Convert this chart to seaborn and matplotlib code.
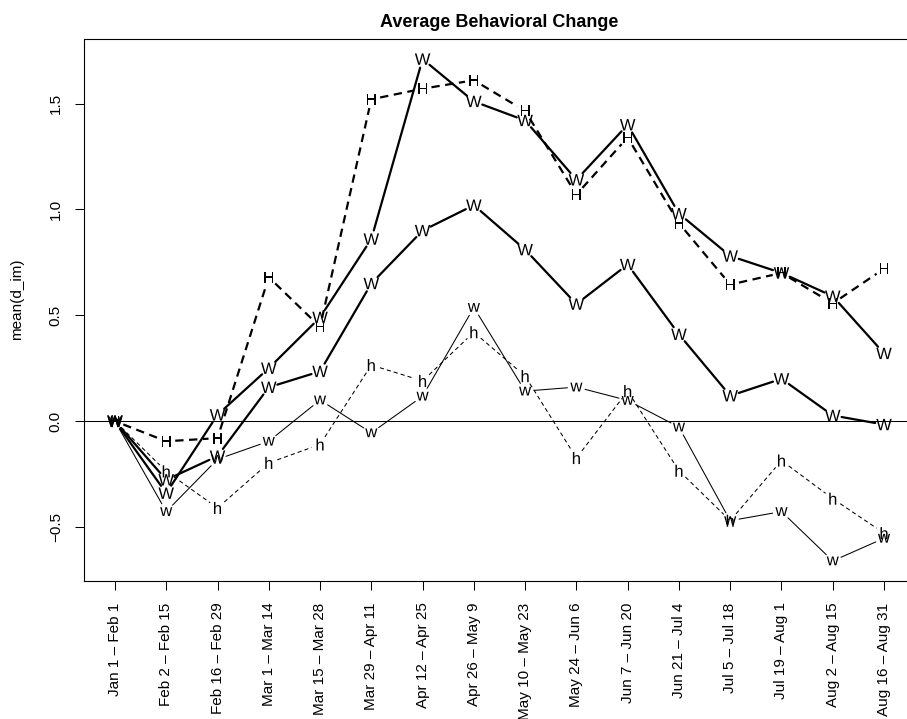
import numpy as np
import pandas as pd
import matplotlib
matplotlib.use("Agg")
import matplotlib.pyplot as plt
import seaborn as sns
from matplotlib.textpath import TextPath
from matplotlib.font_manager import FontProperties
from matplotlib.path import Path

# ---- data -------------------------------------------------------------
periods = [
    "Jan 1 – Feb 1", "Feb 2 – Feb 15", "Feb 16 – Feb 29", "Mar 1 – Mar 14",
    "Mar 15 – Mar 28", "Mar 29 – Apr 11", "Apr 12 – Apr 25", "Apr 26 – May 9",
    "May 10 – May 23", "May 24 – Jun 6", "Jun 7 – Jun 20", "Jun 21 – Jul 4",
    "Jul 5 – Jul 18", "Jul 19 – Aug 1", "Aug 2 – Aug 15", "Aug 16 – Aug 31",
]

W_upper = [0.00, -0.34, 0.03, 0.25, 0.49, 0.86, 1.71, 1.51,
           1.42, 1.14, 1.40, 0.98, 0.78, 0.70, 0.59, 0.32]
H_vals = [0.00, -0.095, -0.08, 0.68, 0.445, 1.52, 1.57, 1.61,
          1.465, 1.07, 1.34, 0.935, 0.645, 0.70, 0.556, 0.72]
W_lower = [0.00, -0.277, -0.165, 0.16, 0.235, 0.65, 0.90, 1.02,
           0.81, 0.553, 0.74, 0.41, 0.12, 0.20, 0.027, -0.016]
w_vals = [0.00, -0.427, -0.18, -0.095, 0.10, -0.055, 0.118, 0.537,
          0.142, 0.161, 0.098, -0.028, -0.47, -0.427, -0.66, -0.553]
h_vals = [0.00, -0.237, -0.41, -0.197, -0.11, 0.265, 0.19, 0.42,
          0.213, -0.174, 0.142, -0.234, -0.47, -0.186, -0.366, -0.529]

yticks = [-0.5, 0.0, 0.5, 1.0, 1.5]

# ---- style ------------------------------------------------------------
sns.set_style("ticks")
plt.rcParams["font.family"] = ["Liberation Sans", "DejaVu Sans"]
plt.rcParams["lines.scale_dashes"] = False
plt.rcParams["text.color"] = "black"
plt.rcParams["axes.labelcolor"] = "black"

W_PX, H_PX, DPI = 907, 719, 100
fig = plt.figure(figsize=(W_PX / DPI, H_PX / DPI), dpi=DPI)
left, right, top, bottom = 84.2, 914.8, 39.0, 581.0
ax = fig.add_axes([left / W_PX, (H_PX - bottom) / H_PX,
                   (right - left) / W_PX, (bottom - top) / H_PX])

x = np.arange(1, len(periods) + 1)
all_vals = np.concatenate([W_upper, H_vals, W_lower, w_vals, h_vals])
lo, hi = all_vals.min(), all_vals.max()
pad = 0.04 * (hi - lo)
ax.set_xlim(0.4, len(periods) + 0.6)
ax.set_ylim(lo - pad, hi + pad)

series = [
    ("W", W_upper, 1.6, "-"),
    ("H", H_vals, 1.6, (0, (6, 4))),
    ("W", W_lower, 1.6, "-"),
    ("w", w_vals, 0.75, "-"),
    ("h", h_vals, 0.75, (0, (3, 2.2))),
]

GAP = 9.0  # pixels left open around each plotted letter
LETTER_PT = 12.0
fp = FontProperties(family="Liberation Sans")


def letter_marker(ch):
    tp = TextPath((0, 0), ch, size=LETTER_PT, prop=fp)
    ext = tp.get_extents()
    verts = tp.vertices - np.array([ext.x0 + ext.width / 2, ext.y0 + ext.height / 2])
    return Path(verts, tp.codes), max(ext.width, ext.height)


def gapped(xs, ys):
    pts = ax.transData.transform(np.column_stack([xs, ys]))
    inv = ax.transData.inverted()
    rows = []
    for i in range(len(pts) - 1):
        p0, p1 = pts[i], pts[i + 1]
        d = p1 - p0
        L = np.hypot(*d)
        if L <= 2 * GAP:
            continue
        u = d / L
        a, b = inv.transform(np.array([p0 + u * GAP, p1 - u * GAP]))
        rows.append({"x": a[0], "y": a[1], "seg": i})
        rows.append({"x": b[0], "y": b[1], "seg": i})
    return pd.DataFrame(rows)

ax.axhline(0, color="black", lw=0.75, zorder=1)

for ch, vals, lw, ls in series:
    segs = gapped(x, vals)
    sns.lineplot(data=segs, x="x", y="y", units="seg", estimator=None,
                 sort=False, color="black", lw=lw, linestyle=ls,
                 legend=False, ax=ax, zorder=2)
    mpath, ms = letter_marker(ch)
    pts = pd.DataFrame({"x": x, "y": vals})
    sns.scatterplot(data=pts, x="x", y="y", marker=mpath, s=ms ** 2,
                    color="black", edgecolor="none", linewidth=0,
                    legend=False, ax=ax, zorder=3)

# ---- axes decoration ----------------------------------------------------
for sp in ax.spines.values():
    sp.set_visible(True)
    sp.set_color("black")
    sp.set_linewidth(0.8)

ax.set_xticks(x)
ax.set_xticklabels(periods, rotation=90, fontsize=11)
ax.set_yticks(yticks)
ax.set_yticklabels([f"{v:.1f}".replace("-", "\u2212") for v in yticks],
                   rotation=90, fontsize=11)
for lab in ax.get_yticklabels():
    lab.set_va("center")
    lab.set_ha("right")
ax.tick_params(axis="both", direction="out", length=6.8, width=0.75,
               color="black", labelcolor="black", pad=8.6)

ax.set_xlabel("")
ax.set_ylabel("mean(d_im)", fontsize=11, va="center")
ax.yaxis.set_label_coords(-0.081, 0.52)
ax.set_title("Average Behavioral Change", fontsize=13, fontweight="bold",
             pad=8.6, color="black")

fig.savefig("out.png", dpi=DPI)
